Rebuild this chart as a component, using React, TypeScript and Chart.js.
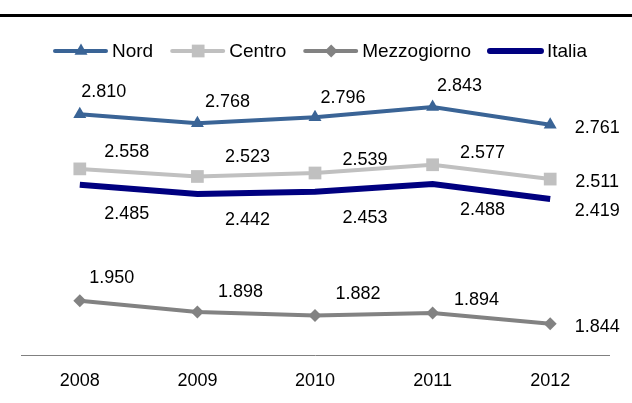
import React, { useEffect, useRef } from "react";
import { Chart, registerables } from "chart.js";

Chart.register(...registerables);

const years = ["2008", "2009", "2010", "2011", "2012"];
const nord = [2810, 2768, 2796, 2843, 2761];
const centro = [2558, 2523, 2539, 2577, 2511];
const mezzogiorno = [1950, 1898, 1882, 1894, 1844];
const italia = [2485, 2442, 2453, 2488, 2419];
const seriesNames = ["Nord", "Centro", "Mezzogiorno", "Italia"];

const FONT = "'Liberation Sans', Arial, sans-serif";

// label offsets (px) relative to each point
const labelOffsets = [
  [[24, -22], [30, -21], [28, -19], [27, -21], [47, 3]],
  [[47, -17], [50, -19], [50, -13], [50, -12], [47, 3]],
  [[32, -23], [43, -20], [43, -21], [44, -13], [47, 3]],
  [[47, 29], [50, 26], [50, 26], [50, 26], [47, 12]],
];

function fmt(v: number) {
  const s = String(v);
  return s.length > 3 ? s.slice(0, s.length - 3) + "." + s.slice(s.length - 3) : s;
}

function drawMarker(ctx: CanvasRenderingContext2D, style: string, x: number, y: number, r: number, color: string) {
  ctx.save();
  ctx.fillStyle = color;
  ctx.beginPath();
  if (style === "triangle") {
    ctx.moveTo(x, y - r);
    ctx.lineTo(x + r * 0.866, y + r * 0.5);
    ctx.lineTo(x - r * 0.866, y + r * 0.5);
    ctx.closePath();
  } else if (style === "rect") {
    const s = r * Math.SQRT1_2;
    ctx.rect(x - s, y - s, 2 * s, 2 * s);
  } else if (style === "rectRot") {
    ctx.moveTo(x - r, y);
    ctx.lineTo(x, y - r);
    ctx.lineTo(x + r, y);
    ctx.lineTo(x, y + r);
    ctx.closePath();
  }
  if (style) ctx.fill();
  ctx.restore();
}

const extrasPlugin = {
  id: "extras",
  afterDraw(chart: any) {
    const ctx: CanvasRenderingContext2D = chart.ctx;
    // top rule
    ctx.save();
    ctx.fillStyle = "#000";
    ctx.fillRect(0, 14, chart.width, 3);
    ctx.restore();

    // legend
    const ds = chart.data.datasets;
    ctx.save();
    ctx.font = "19px " + FONT;
    ctx.textBaseline = "middle";
    ctx.textAlign = "left";
    let x = 53;
    const y = 51;
    ds.forEach((d: any) => {
      ctx.strokeStyle = d.borderColor;
      ctx.lineWidth = d.borderWidth;
      ctx.lineCap = "round";
      ctx.beginPath();
      ctx.moveTo(x + 2, y);
      ctx.lineTo(x + 53, y);
      ctx.stroke();
      drawMarker(ctx, d.pointStyle, x + 28, y, d.pointRadius, d.borderColor);
      x += 59;
      ctx.fillStyle = "#000";
      ctx.fillText(d.label, x, y + 1);
      x += ctx.measureText(d.label).width + 17;
    });
    ctx.restore();
  },
  afterDatasetsDraw(chart: any) {
    const ctx: CanvasRenderingContext2D = chart.ctx;
    ctx.save();
    ctx.font = "18px " + FONT;
    ctx.fillStyle = "#000";
    ctx.textAlign = "center";
    ctx.textBaseline = "middle";
    chart.data.datasets.forEach((d: any, i: number) => {
      const meta = chart.getDatasetMeta(i);
      meta.data.forEach((pt: any, j: number) => {
        const off = labelOffsets[i][j];
        ctx.fillText(fmt(d.data[j]), pt.x + off[0], pt.y + off[1]);
      });
    });
    ctx.restore();
  },
};

export default function App() {
  const ref = useRef<HTMLCanvasElement>(null);
  useEffect(() => {
    if (!ref.current) return;
    const mk = (label: string, data: number[], color: string, width: number, style: any, radius: number) => ({
      label,
      data,
      borderColor: color,
      backgroundColor: color,
      borderWidth: width,
      pointStyle: style,
      pointRadius: radius,
      pointHoverRadius: radius,
      pointBorderWidth: 0,
      pointBackgroundColor: color,
      tension: 0,
    });
    const chart = new Chart(ref.current, {
      type: "line",
      data: {
        labels: years,
        datasets: [
          mk(seriesNames[0], nord, "#3A6496", 4, "triangle", 7.5),
          mk(seriesNames[1], centro, "#C0C0C0", 4, "rect", 9),
          mk(seriesNames[2], mezzogiorno, "#828282", 4, "rectRot", 6.5),
          mk(seriesNames[3], italia, "#000080", 6, false, 0),
        ],
      },
      options: {
        responsive: false,
        animation: false,
        devicePixelRatio: 1,
        layout: { padding: { top: 73, left: 21, right: 23, bottom: 0 } },
        plugins: { legend: { display: false }, tooltip: { enabled: false } },
        scales: {
          y: { display: false, min: 1700, max: 3000 },
          x: {
            offset: true,
            grid: { display: false, drawTicks: false },
            border: { display: true, color: "#808080", width: 1 },
            ticks: { color: "#000", font: { size: 18, family: FONT }, padding: 15 },
            afterFit: (scale: any) => {
              scale.height = 48;
            },
          },
        },
      },
      plugins: [extrasPlugin],
    });
    return () => chart.destroy();
  }, []);
  return (
    <div style={{ position: "fixed", left: 0, top: 0, width: 632, height: 403, background: "#fff" }}>
      <canvas ref={ref} width={632} height={403} style={{ width: 632, height: 403 }} />
    </div>
  );
}
